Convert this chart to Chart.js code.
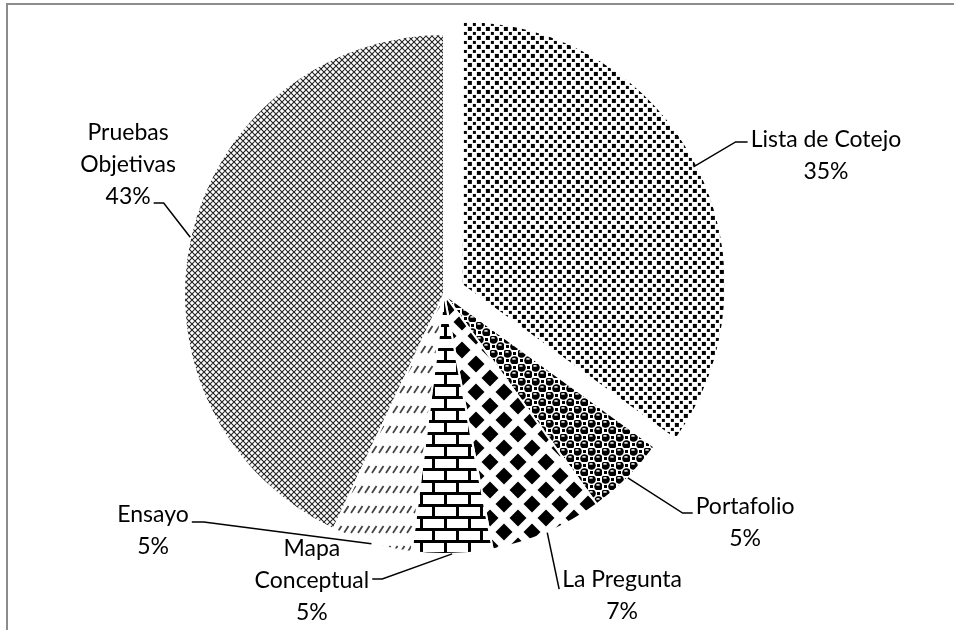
<!DOCTYPE html>
<html lang="es">
  <head>
    <meta charset="utf-8" />
    <title>Instrumentos de evaluación</title>
    <script src="https://cdn.jsdelivr.net/npm/chart.js/dist/chart.umd.min.js"></script>
    <style>
      * {
        margin: 0;
        padding: 0;
      }
      body {
        background: #fff;
      }
      .chartBox {
        position: relative;
        width: 954px;
        height: 630px;
        overflow: hidden;
      }
      .frame {
        position: absolute;
        left: 6px;
        top: 3px;
        right: -10px;
        bottom: -10px;
        border: 2px solid #8c8c8c;
      }
      #myChart {
        position: absolute;
        left: 0;
        top: 0;
      }
    </style>
  </head>
  <body>
    <div class="chartBox">
      <div class="frame"></div>
      <canvas id="myChart" width="954" height="630"></canvas>
    </div>

    <script>
      // data, clockwise from 12 o'clock
      const categories = [
        "Lista de Cotejo",
        "Portafolio",
        "La Pregunta",
        ["Mapa", "Conceptual"],
        "Ensayo",
        ["Pruebas", "Objetivas"],
      ];
      const values = [35, 5, 7, 5, 5, 43];

      const LABEL_FONT = "23px Lato";
      const LINE_H = 32;

      // where each label block sits, relative to the pie centre, in radius units
      const labelLayout = [
        { dx: 1.469, dy: -0.531, side: "left", line: 0, dyA: 2, tail: 12 },
        { dx: 1.158, dy: 0.881, side: "left", line: 0, dyA: 6, tail: 10 },
        { dx: 0.685, dy: 1.158, side: "left", line: 0, dyA: 10, tail: 0 },
        { dx: -0.508, dy: 1.104, side: "right", line: 1, dyA: -2, tail: 10 },
        { dx: -1.119, dy: 0.908, side: "right", line: 0, dyA: 8, tail: 12 },
        { dx: -1.215, dy: -0.496, side: "right", line: 2, dyA: 6, tail: 10 },
      ];

      const canvas = document.getElementById("myChart");
      const ctx0 = canvas.getContext("2d");

      function makePattern(w, h, draw) {
        const c = document.createElement("canvas");
        c.width = w;
        c.height = h;
        const g = c.getContext("2d");
        g.fillStyle = "#fff";
        g.fillRect(0, 0, w, h);
        draw(g);
        return ctx0.createPattern(c, "repeat");
      }

      // staggered squares
      const squares = makePattern(9, 9, (g) => {
        g.fillStyle = "#000";
        g.fillRect(0, 0, 4, 4);
        g.fillRect(5, 5, 3, 3);
      });

      // shaded spheres
      const spheres = makePattern(14, 14, (g) => {
        g.fillStyle = "#000";
        g.fillRect(9, 2, 3, 3);
        g.fillRect(2, 9, 3, 3);
        [[3.5, 3.5], [10.5, 10.5]].forEach(([x, y]) => {
          g.fillStyle = "#000";
          g.beginPath();
          g.arc(x, y, 4.3, 0, Math.PI * 2);
          g.fill();
          g.fillStyle = "#e6e6e6";
          g.beginPath();
          g.ellipse(x - 0.5, y - 1.6, 1.9, 0.9, 0, 0, Math.PI * 2);
          g.fill();
        });
      });

      // solid diamonds
      const diamonds = makePattern(28, 28, (g) => {
        g.fillStyle = "#000";
        [[0, 0], [28, 0], [0, 28], [28, 28], [14, 14]].forEach(([x, y]) => {
          g.beginPath();
          g.moveTo(x, y - 8.5);
          g.lineTo(x + 8.5, y);
          g.lineTo(x, y + 8.5);
          g.lineTo(x - 8.5, y);
          g.closePath();
          g.fill();
        });
      });

      // bricks
      const bricks = makePattern(24, 24, (g) => {
        g.fillStyle = "#000";
        g.fillRect(0, 0, 24, 3);
        g.fillRect(0, 12, 24, 3);
        g.fillRect(0, 3, 3, 9);
        g.fillRect(12, 15, 3, 9);
      });

      // short slanted dashes
      const dashes = makePattern(7, 20, (g) => {
        g.strokeStyle = "#444";
        g.lineWidth = 1.8;
        g.beginPath();
        g.moveTo(1, 13);
        g.lineTo(5.5, 6);
        g.stroke();
      });

      // fine diagonal weave (reads as grey)
      const weave = makePattern(6, 6, (g) => {
        g.strokeStyle = "#222";
        g.lineWidth = 1.1;
        g.beginPath();
        g.moveTo(-3, -3);
        g.lineTo(9, 9);
        g.moveTo(9, -3);
        g.lineTo(-3, 9);
        g.moveTo(3, -3);
        g.lineTo(9, 3);
        g.moveTo(-3, 3);
        g.lineTo(3, 9);
        g.moveTo(3, -3);
        g.lineTo(-3, 3);
        g.moveTo(9, 3);
        g.lineTo(3, 9);
        g.stroke();
      });

      const fills = [squares, spheres, diamonds, bricks, dashes, weave];

      const labelPlugin = {
        id: "sliceLabels",
        afterDatasetsDraw(chart) {
          const ctx = chart.ctx;
          const meta = chart.getDatasetMeta(0);
          const total = values.reduce((a, b) => a + b, 0);
          ctx.save();
          ctx.font = LABEL_FONT;
          ctx.fillStyle = "#000";
          ctx.strokeStyle = "#000";
          ctx.lineWidth = 1.5;
          ctx.textAlign = "center";
          ctx.textBaseline = "middle";
          meta.data.forEach((arc, i) => {
            const lay = labelLayout[i];
            const r = arc.outerRadius;
            const mid = (arc.startAngle + arc.endAngle) / 2;
            const shift = (arc.options.offset || 0) / 4;
            const cx = arc.x + Math.cos(mid) * shift;
            const cy = arc.y + Math.sin(mid) * shift;
            const ex = cx + Math.cos(mid) * r;
            const ey = cy + Math.sin(mid) * r;

            const pct = Math.round((values[i] / total) * 100) + "%";
            const lines = [].concat(categories[i], pct);
            const bx = arc.x + lay.dx * r;
            const by = arc.y + lay.dy * r;
            const top = by - ((lines.length - 1) * LINE_H) / 2;
            lines.forEach((t, k) => ctx.fillText(t, bx, top + k * LINE_H));

            const w = ctx.measureText(lines[lay.line]).width;
            const ay = top + lay.line * LINE_H + lay.dyA;
            const ax = lay.side === "left" ? bx - w / 2 - 3 : bx + w / 2 + 3;
            const kx = lay.side === "left" ? ax - lay.tail : ax + lay.tail;
            ctx.beginPath();
            ctx.moveTo(ex, ey);
            ctx.lineTo(kx, ay);
            ctx.lineTo(ax, ay);
            ctx.stroke();
          });
          ctx.restore();
        },
      };

      const myChart = new Chart(canvas, {
        type: "pie",
        data: {
          labels: categories,
          datasets: [
            {
              data: values,
              backgroundColor: fills,
              borderColor: "#fff",
              borderWidth: 2,
              offset: [80, 0, 0, 0, 0, 0],
            },
          ],
        },
        options: {
          responsive: false,
          animation: false,
          events: [],
          radius: 260,
          layout: { padding: { top: 0, bottom: 42, left: 0, right: 66 } },
          plugins: {
            legend: { display: false },
            tooltip: { enabled: false },
          },
        },
        plugins: [labelPlugin],
      });
    </script>
  </body>
</html>
